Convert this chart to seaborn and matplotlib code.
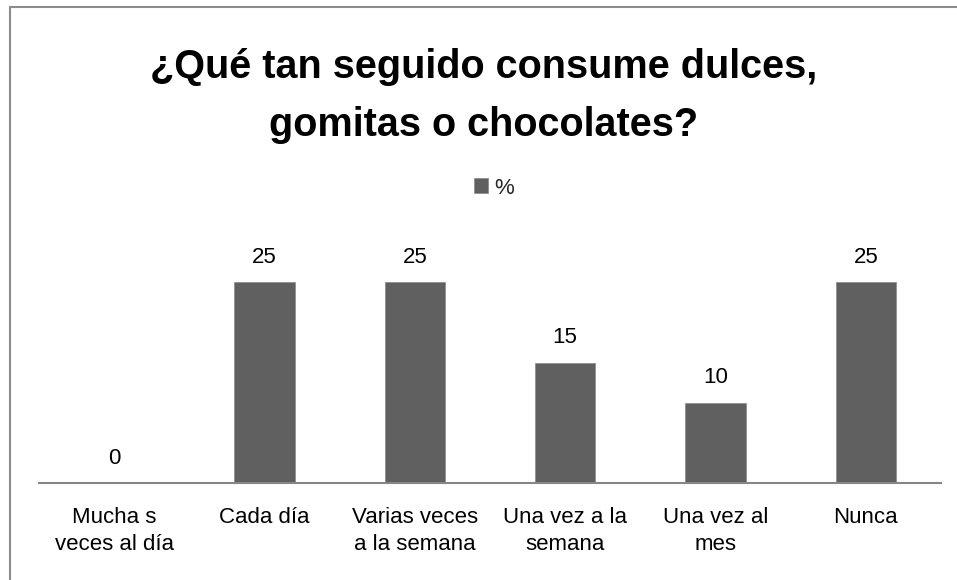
import matplotlib
matplotlib.use("Agg")
import matplotlib.pyplot as plt
from matplotlib.lines import Line2D
import seaborn as sns
import pandas as pd

categories = ["Mucha s\nveces al día", "Cada día", "Varias veces\na la semana",
              "Una vez a la\nsemana", "Una vez al\nmes", "Nunca"]
values = [0, 25, 25, 15, 10, 25]
series_name = "%"
title_lines = ["¿Qué tan seguido consume dulces,", "gomitas o chocolates?"]

sns.set_theme(style="white")
plt.rcParams['font.family'] = ['Liberation Sans', 'DejaVu Sans']

df = pd.DataFrame({"cat": categories, "val": values, "serie": series_name})

W, H = 957, 580
fig = plt.figure(figsize=(W / 100, H / 100), dpi=100)
ax_left, ax_right, ax_bottom, ax_top = 39, 941, 483, 242
ax = fig.add_axes([ax_left / W, 1 - ax_bottom / H, (ax_right - ax_left) / W, (ax_bottom - ax_top) / H])

bar_color = "#606060"
sns.barplot(data=df, x="cat", y="val", hue="serie", palette=[bar_color],
            width=0.4, dodge=False, ax=ax, edgecolor="#8f8f8f", linewidth=0.6,
            legend=True)

ax.set_xlim(-0.5, len(categories) - 0.5)
ax.set_ylim(0, 30)
ax.set_xlabel("")
ax.set_ylabel("")
ax.set_yticks([])
for s in ["top", "right", "left"]:
    ax.spines[s].set_visible(False)
ax.spines["bottom"].set_color("#868686")
ax.spines["bottom"].set_linewidth(1.5)
ax.tick_params(axis="x", length=0, pad=17, labelsize=16, colors="black")
for lbl in ax.get_xticklabels():
    lbl.set_multialignment("center")
    lbl.set_linespacing(1.4)

# data labels
for i, v in enumerate(values):
    ax.annotate(f"{v}", xy=(i, v), xytext=(0, 14), textcoords="offset points",
                ha="center", va="baseline", fontsize=16, color="black")

# legend
leg = ax.legend(loc="center", bbox_to_anchor=(494 / W, 1 - 188 / H),
                bbox_transform=fig.transFigure, frameon=False, fontsize=16,
                handlelength=0.65, handleheight=0.65, handletextpad=0.3,
                borderpad=0, borderaxespad=0)

# title (two lines)
for line, base_y in zip(title_lines, [78, 136]):
    fig.text(484 / W, 1 - base_y / H, line, ha="center", va="baseline", fontsize=28.5,
             fontweight="bold", color="black")

# chart border
bc = "#8c8c8c"
fig.add_artist(Line2D([9.5 / W, 9.5 / W], [0, 1 - 7 / H], transform=fig.transFigure,
                      color=bc, linewidth=1.5))
fig.add_artist(Line2D([9.5 / W, 1], [1 - 7 / H, 1 - 7 / H], transform=fig.transFigure,
                      color=bc, linewidth=1.5))

fig.savefig("out.png", dpi=100, facecolor="white")
